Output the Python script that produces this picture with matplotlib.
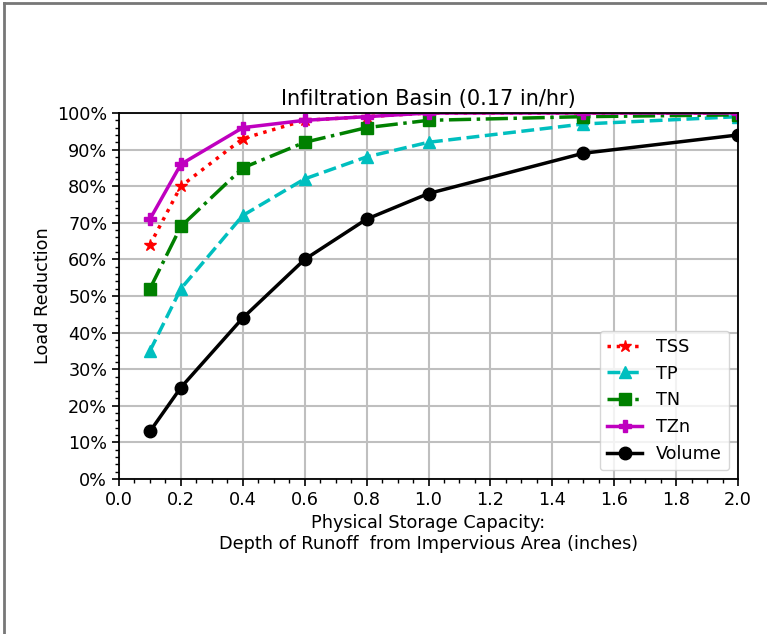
import numpy as np
import matplotlib
matplotlib.use('Agg')
import matplotlib.pyplot as plt
from matplotlib.ticker import MultipleLocator, PercentFormatter
from matplotlib.lines import Line2D

plt.rc('font', family='DejaVu Sans', size=12.7)

# storage depth (inches)
depth = [0.1, 0.2, 0.4, 0.6, 0.8, 1.0, 1.5, 2.0]
# load reduction (%)
tss = [64, 80, 93, 98, 99, 100, 100, 100]
tp = [35, 52, 72, 82, 88, 92, 97, 99]
tn = [52, 69, 85, 92, 96, 98, 99, 99.5]
tzn = [71, 86, 96, 98, 99, 100, 100, 100]
volume = [13, 25, 44, 60, 71, 78, 89, 94]

fig = plt.figure(figsize=(7.67, 6.34), dpi=100)
ax = fig.add_axes([119/767, 1 - 479/634, (738-119)/767, (479-113)/634])

ax.plot(depth, tss, 'r:*', lw=2.5, ms=9, label='TSS')
ax.plot(depth, tp, 'c--^', lw=2.5, ms=9, label='TP')
ax.plot(depth, tn, 'g-.s', lw=2.5, ms=9, label='TN')
ax.plot(depth, tzn, 'm-P', lw=2.5, ms=9, label='TZn')
ax.plot(depth, volume, 'k-o', lw=2.5, ms=9, label='Volume')

ax.set_xlim(0, 2.0)
ax.set_ylim(0, 100)
ax.xaxis.set_major_locator(MultipleLocator(0.2))
ax.xaxis.set_minor_locator(MultipleLocator(0.05))
ax.yaxis.set_major_locator(MultipleLocator(10))
ax.yaxis.set_minor_locator(MultipleLocator(2))
ax.yaxis.set_major_formatter(PercentFormatter(decimals=0))
ax.grid(True, which='major', color='#bfbfbf', lw=1.5)
ax.set_axisbelow(True)
ax.tick_params(which='major', length=5, width=1.2)
ax.tick_params(which='minor', length=3, width=1.0)
for sp in ax.spines.values():
    sp.set_linewidth(1.3)

ax.set_title('Infiltration Basin (0.17 in/hr)', fontsize=15)
ax.set_ylabel('Load Reduction')
ax.set_xlabel('Physical Storage Capacity:\nDepth of Runoff  from Impervious Area (inches)')
ax.legend(loc='lower right', fontsize=12.7)

# frame around the picture
fig.add_artist(Line2D([4/767, 4/767], [0, 1 - 3/634], color='#777777', lw=2, transform=fig.transFigure))
fig.add_artist(Line2D([4/767, 1], [1 - 3/634, 1 - 3/634], color='#777777', lw=2, transform=fig.transFigure))

fig.savefig('out.png', dpi=100)
